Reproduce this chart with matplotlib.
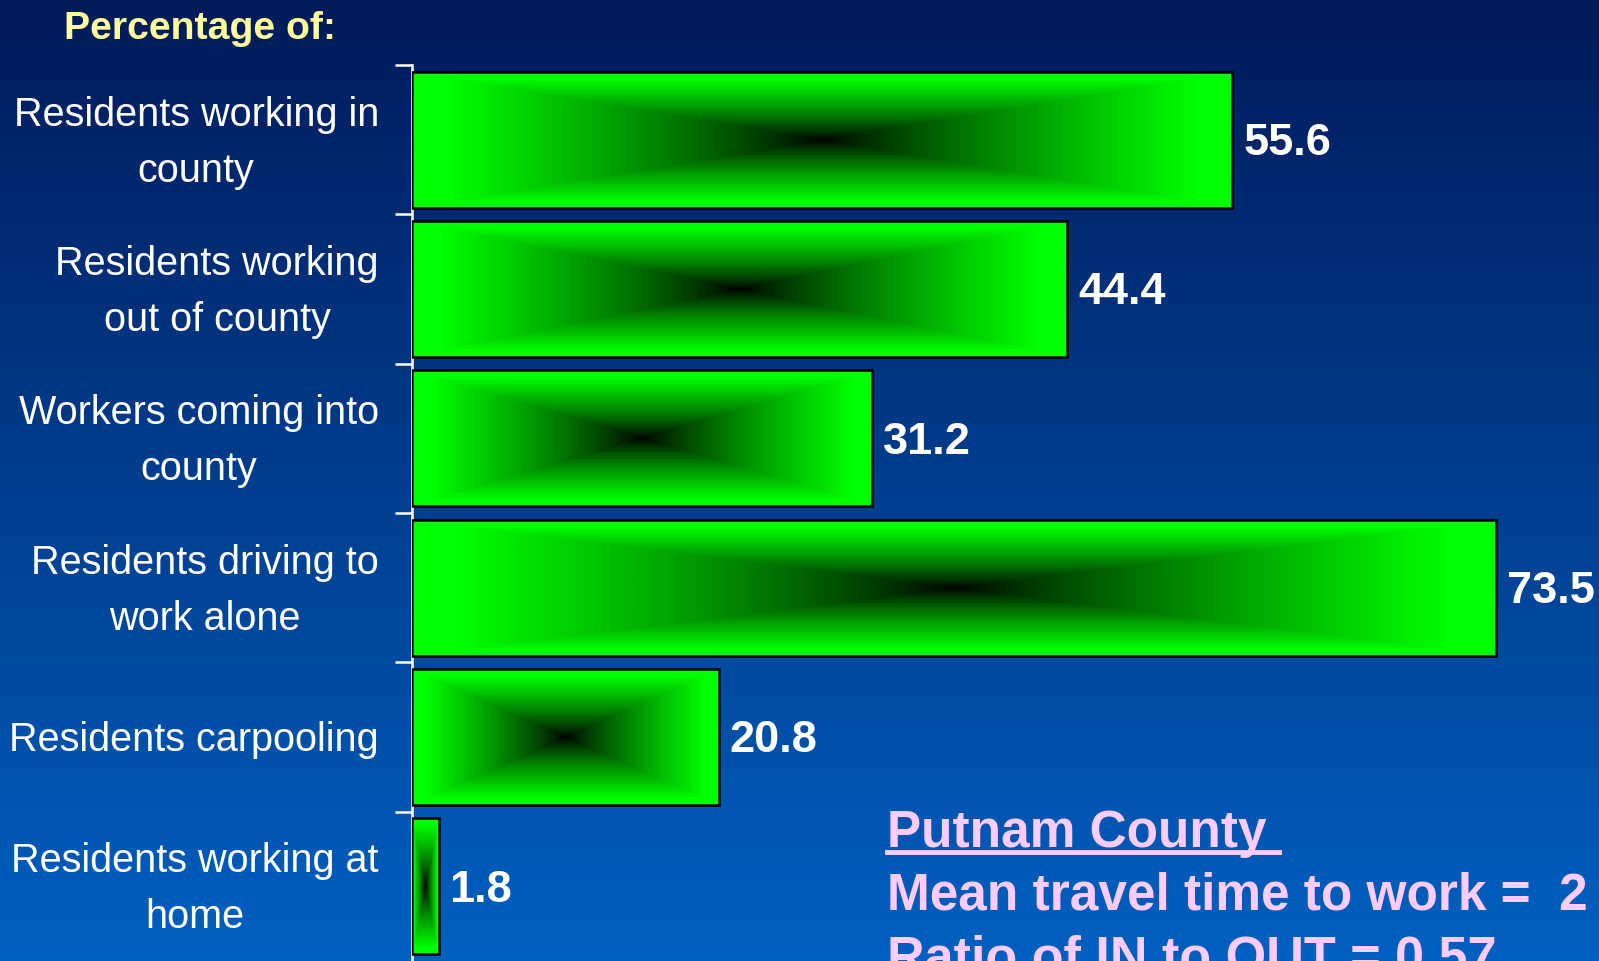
import numpy as np
import matplotlib
matplotlib.use("Agg")
import matplotlib.pyplot as plt
from matplotlib.colors import LinearSegmentedColormap

categories = [
    "Residents working in\ncounty",
    "Residents working\nout of county",
    "Workers coming into\ncounty",
    "Residents driving to\nwork alone",
    "Residents carpooling",
    "Residents working at\nhome",
]
values = [55.6, 44.4, 31.2, 73.5, 20.8, 1.8]
value_labels = ["55.6", "44.4", "31.2", "73.5", "20.8", "1.8"]
header = "Percentage of:"
note_title = "Putnam County"
note_lines = ["Mean travel time to work =  2", "Ratio of IN to OUT = 0.57"]

FONT = ["Liberation Sans", "DejaVu Sans"]

W, H = 1599, 962
fig = plt.figure(figsize=(W / 100, H / 100), dpi=100)

# background vertical gradient
bg = fig.add_axes([0, 0, 1, 1], zorder=-10)
top = np.array([0, 26, 90]) / 255
bot = np.array([0, 96, 192]) / 255
t = np.linspace(0, 1, 256)[:, None]
grad = (top[None, :] * (1 - t) + bot[None, :] * t)[:, None, :]
bg.imshow(grad, aspect="auto", extent=(0, 1, 0, 1), origin="upper")
bg.set_axis_off()

ax_left = 412 / W
ax_top = 1 - 66 / H
ax = fig.add_axes([ax_left, 0, 1 - ax_left, ax_top])
ax.set_facecolor("none")

n = len(categories)
ys = np.arange(n)
bar_h = 0.91

green_cmap = LinearSegmentedColormap.from_list("g", [(0, 0, 0), (0, 1, 0)])

gx = np.linspace(-1, 1, 240)
gy = np.linspace(-1, 1, 100)
GX, GY = np.meshgrid(gx, gy)
tt = np.maximum(np.abs(GX), np.abs(GY))
tt = np.clip(tt / 0.92, 0, 1) ** 0.8

for y, v in zip(ys, values):
    ax.imshow(tt, cmap=green_cmap, vmin=0, vmax=1, aspect="auto",
              extent=(0, v, y + bar_h / 2, y - bar_h / 2), zorder=2,
              interpolation="bilinear")
ax.barh(ys, values, height=bar_h, facecolor="none", edgecolor="black",
        linewidth=1.8, zorder=3)

for y, v, lab in zip(ys, values, value_labels):
    ax.annotate(lab, (v, y), xytext=(11, -3), textcoords="offset pixels",
                ha="left", va="center", color="white", fontsize=32.5,
                fontweight="bold", family=FONT, zorder=4)

ax.set_xlim(0, (W - 412) / 14.75)
ax.set_ylim(n - 0.5, -0.5)

ax.set_yticks(np.arange(n) - 0.5)
ax.set_yticklabels([])
ax.tick_params(axis="y", direction="out", length=12, width=1.8, color="white")
ax.set_xticks([])
for s in ["top", "right", "bottom"]:
    ax.spines[s].set_visible(False)
ax.spines["left"].set_color("white")
ax.spines["left"].set_linewidth(1.8)

for y, cat in zip(ys, categories):
    ax.annotate(cat, (0, y), xytext=(-33, -2), textcoords="offset pixels",
                ha="right", va="center", multialignment="center",
                color="white", fontsize=28.5, linespacing=1.6,
                family=FONT, annotation_clip=False)

fig.text(200 / W, 1 - 29 / H, header, ha="center", va="center",
         color="#FFFF99", fontsize=28.3, fontweight="bold", family=FONT)

pink = "#FFCCFF"
fig.text(887 / W, 1 - 847 / H, note_title, ha="left", va="baseline",
         color=pink, fontsize=37, fontweight="bold", family=FONT)
# underline
fig.add_artist(plt.Line2D([887 / W, 1279 / W], [1 - 853 / H, 1 - 853 / H],
                          color=pink, linewidth=3.5))
fig.text(887 / W, 1 - 910 / H, note_lines[0], ha="left", va="baseline",
         color=pink, fontsize=37, fontweight="bold", family=FONT)
fig.text(887 / W, 1 - 973 / H, note_lines[1], ha="left", va="baseline",
         color=pink, fontsize=37.5, fontweight="bold", family=FONT)

fig.savefig("out.png", dpi=100)
